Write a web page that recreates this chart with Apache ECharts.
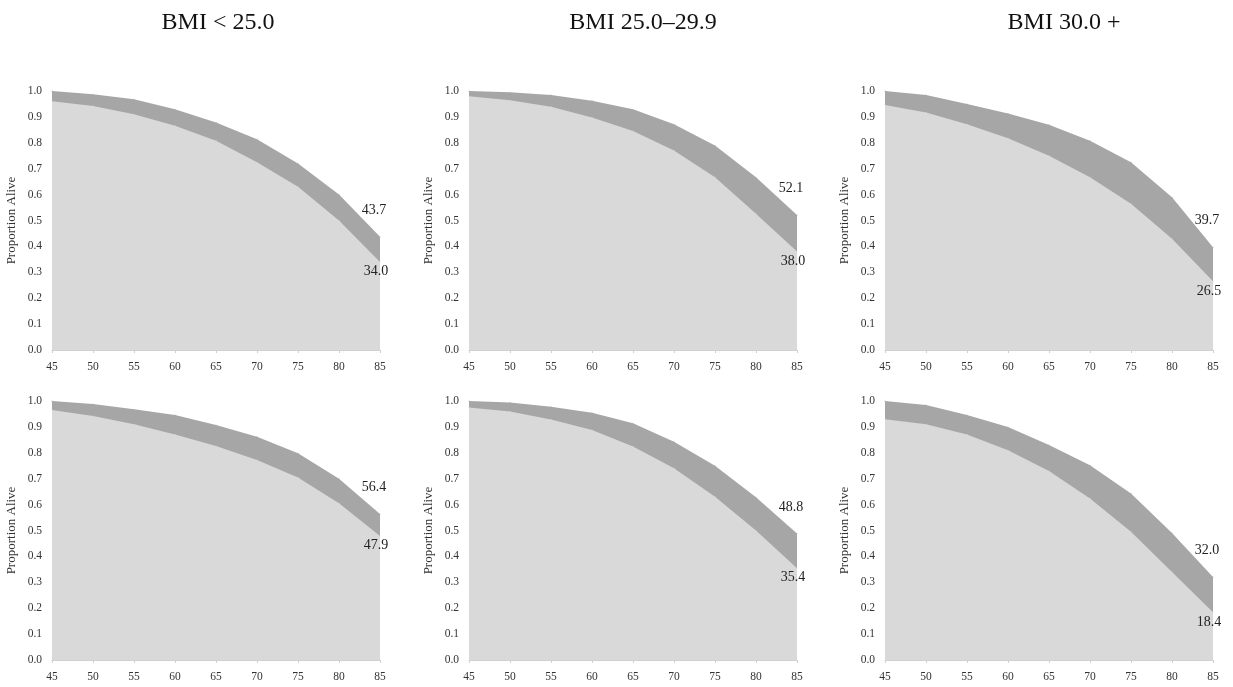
<!DOCTYPE html>
<html>
<head>
<meta charset="utf-8">
<title>Proportion Alive by BMI</title>
<script src="https://cdn.jsdelivr.net/npm/echarts@6/dist/echarts.min.js"></script>
<style>
  html, body { margin: 0; padding: 0; background: #fff; }
  #chart { width: 1233px; height: 687px; }
</style>
</head>
<body>
<div id="chart"></div>
<script>
// ages on the x axis
const ages = ['45', '50', '55', '60', '65', '70', '75', '80', '85'];
const titles = ['BMI < 25.0', 'BMI 25.0\u201329.9', 'BMI 30.0 +'];

// top row
const upper1 = [1.0, 0.987, 0.968, 0.93, 0.878, 0.814, 0.72, 0.60, 0.437];
const lower1 = [0.96, 0.942, 0.91, 0.866, 0.808, 0.725, 0.63, 0.50, 0.340];
const upper2 = [1.0, 0.995, 0.985, 0.962, 0.93, 0.872, 0.79, 0.667, 0.521];
const lower2 = [0.98, 0.964, 0.939, 0.898, 0.846, 0.77, 0.667, 0.526, 0.380];
const upper3 = [1.0, 0.985, 0.95, 0.913, 0.87, 0.808, 0.725, 0.59, 0.397];
const lower3 = [0.946, 0.917, 0.872, 0.818, 0.75, 0.667, 0.565, 0.43, 0.265];

// bottom row
const upper4 = [1.0, 0.988, 0.968, 0.946, 0.907, 0.862, 0.798, 0.70, 0.564];
const lower4 = [0.965, 0.942, 0.91, 0.871, 0.826, 0.772, 0.705, 0.605, 0.479];
const upper5 = [1.0, 0.994, 0.978, 0.955, 0.914, 0.843, 0.75, 0.628, 0.488];
const lower5 = [0.975, 0.959, 0.929, 0.888, 0.824, 0.74, 0.63, 0.50, 0.354];
const upper6 = [1.0, 0.985, 0.946, 0.90, 0.83, 0.752, 0.643, 0.49, 0.320];
const lower6 = [0.93, 0.91, 0.871, 0.81, 0.73, 0.624, 0.495, 0.34, 0.184];

const panels = [
    [upper1, lower1], [upper2, lower2], [upper3, lower3],
    [upper4, lower4], [upper5, lower5], [upper6, lower6]
];

const serif = '"Liberation Serif", "DejaVu Serif", serif';
const colLeft = [52, 469, 885];
const colWidth = 328;
const rowTop = [91, 401];
const rowHeight = 259;

const chart = echarts.init(document.getElementById('chart'));

const grids = [], xAxes = [], yAxes = [], series = [];

// label only the last point of each curve
const endLabel = (offset, position) => ({
    show: true,
    position: position,
    offset: offset,
    fontFamily: serif,
    fontSize: 14,
    color: '#222',
    formatter: (p) => p.dataIndex === ages.length - 1 ? (p.value * 100).toFixed(1) : ''
});

panels.forEach((pair, i) => {
    const col = i % 3;
    const row = Math.floor(i / 3);
    grids.push({
        left: colLeft[col],
        top: rowTop[row],
        width: colWidth,
        height: rowHeight
    });
    xAxes.push({
        type: 'category',
        gridIndex: i,
        data: ages,
        boundaryGap: false,
        axisLine: { show: true, lineStyle: { color: '#d0d0d0' } },
        axisTick: { show: true, length: 3, lineStyle: { color: '#d0d0d0' } },
        axisLabel: { fontFamily: serif, fontSize: 11.5, color: '#333', margin: 11 }
    });
    yAxes.push({
        type: 'value',
        gridIndex: i,
        min: 0,
        max: 1,
        interval: 0.1,
        name: 'Proportion Alive',
        nameLocation: 'middle',
        nameGap: 34,
        nameTextStyle: { fontFamily: serif, fontSize: 13, color: '#333' },
        axisLine: { show: false },
        axisTick: { show: false },
        splitLine: { show: false },
        axisLabel: {
            fontFamily: serif, fontSize: 11.5, color: '#333', margin: 10,
            formatter: (v) => v.toFixed(1)
        }
    });
    series.push({
        type: 'line',
        xAxisIndex: i,
        yAxisIndex: i,
        data: pair[0],
        symbol: 'circle',
        symbolSize: 1,
        itemStyle: { color: '#a6a6a6' },
        lineStyle: { width: 0 },
        areaStyle: { color: '#a6a6a6', opacity: 1 },
        label: endLabel([-6, -14], 'top'),
        z: 2,
        silent: true
    });
    series.push({
        type: 'line',
        xAxisIndex: i,
        yAxisIndex: i,
        data: pair[1],
        symbol: 'circle',
        symbolSize: 1,
        itemStyle: { color: '#d9d9d9' },
        lineStyle: { width: 0 },
        areaStyle: { color: '#d9d9d9', opacity: 1 },
        label: endLabel([-4, -3], 'bottom'),
        z: 3,
        silent: true
    });
});

const titleCenters = [213, 638, 1059];
const option = {
    animation: false,
    title: titles.map((t, i) => ({
        text: t,
        left: titleCenters[i],
        top: 6,
        textAlign: 'center',
        textStyle: { fontFamily: serif, fontSize: 24, fontWeight: 'normal', color: '#111' }
    })),
    grid: grids,
    xAxis: xAxes,
    yAxis: yAxes,
    series: series
};

chart.setOption(option);
</script>
</body>
</html>
